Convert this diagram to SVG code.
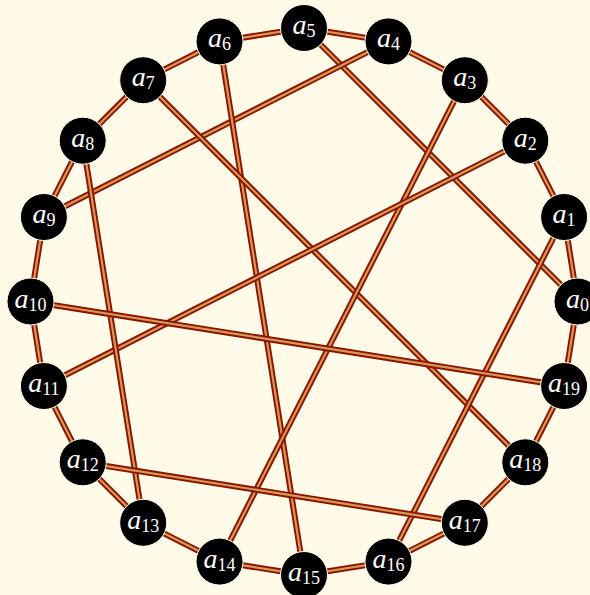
<svg xmlns="http://www.w3.org/2000/svg" width="590" height="595" viewBox="0 0 590 595">
<style>
.o{stroke:#8b1200;stroke-width:6;stroke-linecap:butt}
.i{stroke:#d69a55;stroke-width:2.2;stroke-linecap:butt}
.n circle{fill:#000;stroke:#fffbe8;stroke-width:1}
.n text{font-family:"Liberation Serif","DejaVu Serif",serif;font-style:italic;font-size:28px;fill:#fff;text-anchor:middle}
.n tspan{font-style:normal;font-size:18px}
</style>
<rect width="590" height="595" fill="#fffbe8"/>
<g id="connectors">
<line class="o" x1="577.5" y1="301.5" x2="564.1" y2="217"/><line class="i" x1="577.5" y1="301.5" x2="564.1" y2="217"/>
<line class="o" x1="564.1" y1="217" x2="525.3" y2="140.7"/><line class="i" x1="564.1" y1="217" x2="525.3" y2="140.7"/>
<line class="o" x1="525.3" y1="140.7" x2="464.8" y2="80.2"/><line class="i" x1="525.3" y1="140.7" x2="464.8" y2="80.2"/>
<line class="o" x1="464.8" y1="80.2" x2="388.5" y2="41.4"/><line class="i" x1="464.8" y1="80.2" x2="388.5" y2="41.4"/>
<line class="o" x1="388.5" y1="41.4" x2="304" y2="28"/><line class="i" x1="388.5" y1="41.4" x2="304" y2="28"/>
<line class="o" x1="304" y1="28" x2="219.5" y2="41.4"/><line class="i" x1="304" y1="28" x2="219.5" y2="41.4"/>
<line class="o" x1="219.5" y1="41.4" x2="143.2" y2="80.2"/><line class="i" x1="219.5" y1="41.4" x2="143.2" y2="80.2"/>
<line class="o" x1="143.2" y1="80.2" x2="82.7" y2="140.7"/><line class="i" x1="143.2" y1="80.2" x2="82.7" y2="140.7"/>
<line class="o" x1="82.7" y1="140.7" x2="43.9" y2="217"/><line class="i" x1="82.7" y1="140.7" x2="43.9" y2="217"/>
<line class="o" x1="43.9" y1="217" x2="30.5" y2="301.5"/><line class="i" x1="43.9" y1="217" x2="30.5" y2="301.5"/>
<line class="o" x1="30.5" y1="301.5" x2="43.9" y2="386"/><line class="i" x1="30.5" y1="301.5" x2="43.9" y2="386"/>
<line class="o" x1="43.9" y1="386" x2="82.7" y2="462.3"/><line class="i" x1="43.9" y1="386" x2="82.7" y2="462.3"/>
<line class="o" x1="82.7" y1="462.3" x2="143.2" y2="522.8"/><line class="i" x1="82.7" y1="462.3" x2="143.2" y2="522.8"/>
<line class="o" x1="143.2" y1="522.8" x2="219.5" y2="561.6"/><line class="i" x1="143.2" y1="522.8" x2="219.5" y2="561.6"/>
<line class="o" x1="219.5" y1="561.6" x2="304" y2="575"/><line class="i" x1="219.5" y1="561.6" x2="304" y2="575"/>
<line class="o" x1="304" y1="575" x2="388.5" y2="561.6"/><line class="i" x1="304" y1="575" x2="388.5" y2="561.6"/>
<line class="o" x1="388.5" y1="561.6" x2="464.8" y2="522.8"/><line class="i" x1="388.5" y1="561.6" x2="464.8" y2="522.8"/>
<line class="o" x1="464.8" y1="522.8" x2="525.3" y2="462.3"/><line class="i" x1="464.8" y1="522.8" x2="525.3" y2="462.3"/>
<line class="o" x1="525.3" y1="462.3" x2="564.1" y2="386"/><line class="i" x1="525.3" y1="462.3" x2="564.1" y2="386"/>
<line class="o" x1="564.1" y1="386" x2="577.5" y2="301.5"/><line class="i" x1="564.1" y1="386" x2="577.5" y2="301.5"/>
<line class="o" x1="304" y1="28" x2="577.5" y2="301.5"/><line class="i" x1="304" y1="28" x2="577.5" y2="301.5"/>
<line class="o" x1="388.5" y1="41.4" x2="43.9" y2="217"/><line class="i" x1="388.5" y1="41.4" x2="43.9" y2="217"/>
<line class="o" x1="219.5" y1="41.4" x2="304" y2="575"/><line class="i" x1="219.5" y1="41.4" x2="304" y2="575"/>
<line class="o" x1="143.2" y1="80.2" x2="525.3" y2="462.3"/><line class="i" x1="143.2" y1="80.2" x2="525.3" y2="462.3"/>
<line class="o" x1="464.8" y1="80.2" x2="219.5" y2="561.6"/><line class="i" x1="464.8" y1="80.2" x2="219.5" y2="561.6"/>
<line class="o" x1="525.3" y1="140.7" x2="43.9" y2="386"/><line class="i" x1="525.3" y1="140.7" x2="43.9" y2="386"/>
<line class="o" x1="564.1" y1="217" x2="388.5" y2="561.6"/><line class="i" x1="564.1" y1="217" x2="388.5" y2="561.6"/>
<line class="o" x1="82.7" y1="140.7" x2="143.2" y2="522.8"/><line class="i" x1="82.7" y1="140.7" x2="143.2" y2="522.8"/>
<line class="o" x1="30.5" y1="301.5" x2="564.1" y2="386"/><line class="i" x1="30.5" y1="301.5" x2="564.1" y2="386"/>
<line class="o" x1="82.7" y1="462.3" x2="464.8" y2="522.8"/><line class="i" x1="82.7" y1="462.3" x2="464.8" y2="522.8"/>
</g>
<g id="a0" class="n"><circle cx="577.5" cy="301.5" r="23.5"/><text x="577.5" y="307.5">a<tspan dy="3">0</tspan></text></g>
<g id="a1" class="n"><circle cx="564.1" cy="217" r="23.5"/><text x="564.1" y="223">a<tspan dy="3">1</tspan></text></g>
<g id="a2" class="n"><circle cx="525.3" cy="140.7" r="23.5"/><text x="525.3" y="146.7">a<tspan dy="3">2</tspan></text></g>
<g id="a3" class="n"><circle cx="464.8" cy="80.2" r="23.5"/><text x="464.8" y="86.2">a<tspan dy="3">3</tspan></text></g>
<g id="a4" class="n"><circle cx="388.5" cy="41.4" r="23.5"/><text x="388.5" y="47.4">a<tspan dy="3">4</tspan></text></g>
<g id="a5" class="n"><circle cx="304" cy="28" r="23.5"/><text x="304" y="34">a<tspan dy="3">5</tspan></text></g>
<g id="a6" class="n"><circle cx="219.5" cy="41.4" r="23.5"/><text x="219.5" y="47.4">a<tspan dy="3">6</tspan></text></g>
<g id="a7" class="n"><circle cx="143.2" cy="80.2" r="23.5"/><text x="143.2" y="86.2">a<tspan dy="3">7</tspan></text></g>
<g id="a8" class="n"><circle cx="82.7" cy="140.7" r="23.5"/><text x="82.7" y="146.7">a<tspan dy="3">8</tspan></text></g>
<g id="a9" class="n"><circle cx="43.9" cy="217" r="23.5"/><text x="43.9" y="223">a<tspan dy="3">9</tspan></text></g>
<g id="a10" class="n"><circle cx="30.5" cy="301.5" r="23.5"/><text x="30.5" y="307.5">a<tspan dy="3">10</tspan></text></g>
<g id="a11" class="n"><circle cx="43.9" cy="386" r="23.5"/><text x="43.9" y="392">a<tspan dy="3">11</tspan></text></g>
<g id="a12" class="n"><circle cx="82.7" cy="462.3" r="23.5"/><text x="82.7" y="468.3">a<tspan dy="3">12</tspan></text></g>
<g id="a13" class="n"><circle cx="143.2" cy="522.8" r="23.5"/><text x="143.2" y="528.8">a<tspan dy="3">13</tspan></text></g>
<g id="a14" class="n"><circle cx="219.5" cy="561.6" r="23.5"/><text x="219.5" y="567.6">a<tspan dy="3">14</tspan></text></g>
<g id="a15" class="n"><circle cx="304" cy="575" r="23.5"/><text x="304" y="581">a<tspan dy="3">15</tspan></text></g>
<g id="a16" class="n"><circle cx="388.5" cy="561.6" r="23.5"/><text x="388.5" y="567.6">a<tspan dy="3">16</tspan></text></g>
<g id="a17" class="n"><circle cx="464.8" cy="522.8" r="23.5"/><text x="464.8" y="528.8">a<tspan dy="3">17</tspan></text></g>
<g id="a18" class="n"><circle cx="525.3" cy="462.3" r="23.5"/><text x="525.3" y="468.3">a<tspan dy="3">18</tspan></text></g>
<g id="a19" class="n"><circle cx="564.1" cy="386" r="23.5"/><text x="564.1" y="392">a<tspan dy="3">19</tspan></text></g>
</svg>
